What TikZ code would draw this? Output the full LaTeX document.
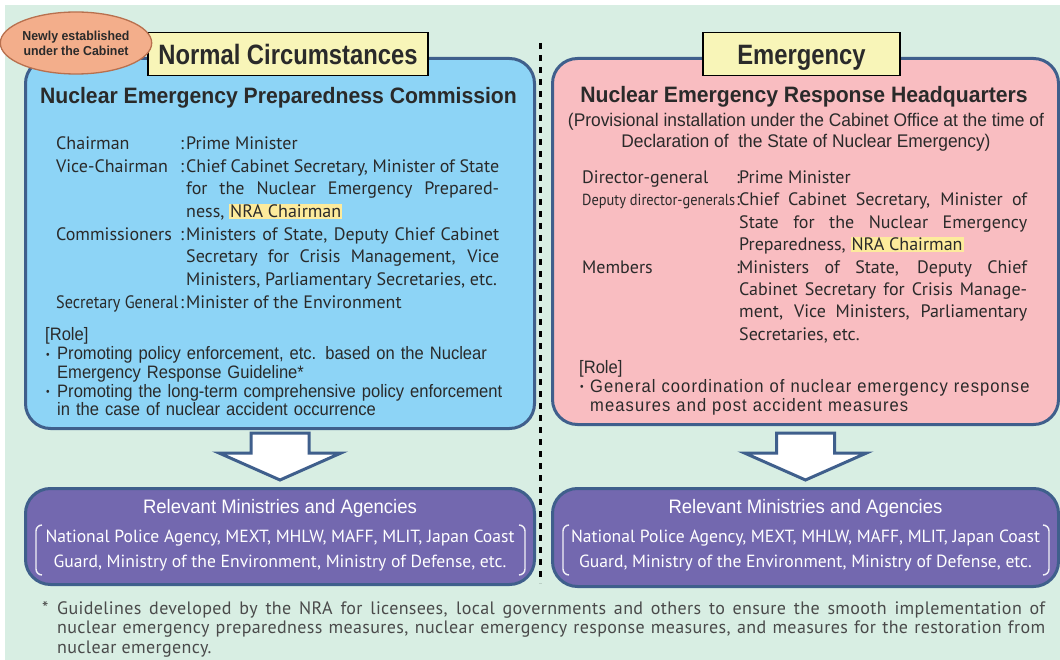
\documentclass[tikz,border=0pt]{standalone}
\usepackage{fontspec}
\usepackage{xcolor}
\usetikzlibrary{positioning,calc,shapes.geometric}
\setmainfont{PT Sans}
\newfontfamily\narrowfont[FakeStretch=0.9]{PT Sans}
\newfontfamily\titlefont[FakeStretch=0.85]{Liberation Sans}
\newfontfamily\headfont[FakeStretch=0.95]{Liberation Sans}
\newfontfamily\rolefont[FakeStretch=0.92]{Liberation Sans}
\newfontfamily\rolewidefont[FakeStretch=0.92,LetterSpace=6]{Liberation Sans}
\newfontfamily\notefont[LetterSpace=2]{PT Sans}
\definecolor{bgGreen}{HTML}{D8EEE3}
\definecolor{panelEdge}{HTML}{3F5F8C}
\definecolor{normalBlue}{HTML}{8DD4F6}
\definecolor{emergPink}{HTML}{F9BDC1}
\definecolor{agencyPurple}{HTML}{7368AF}
\definecolor{tagYellow}{HTML}{F8F5B8}
\definecolor{markYellow}{HTML}{FDEB9C}
\definecolor{cabinetOrange}{HTML}{F3AE8B}
\definecolor{cabinetEdge}{HTML}{B8704E}
\definecolor{textDark}{HTML}{2A2A2A}
\definecolor{noteGray}{HTML}{4A4A4A}
\newcommand{\nrachair}{{\setlength{\fboxsep}{1pt}\colorbox{markYellow}{NRA Chairman}}}
\newcommand{\roledot}[1]{\hangindent=#1\hangafter=1\makebox[#1][l]{\hspace{1pt}\raisebox{1.5pt}{\fontsize{11}{11}\selectfont\textbullet}}}
\tikzstyle{panel}=[draw=panelEdge, line width=3pt, rounded corners=25pt, anchor=north west, inner sep=0pt]
\tikzstyle{tag}=[draw=black, line width=1.3pt, fill=tagYellow, inner sep=0pt, minimum height=43pt,
        text height=24pt, text depth=2pt, text=textDark, font=\titlefont\bfseries\fontsize{28}{30}\selectfont]
\tikzstyle{heading}=[inner sep=0pt, text=textDark, font=\headfont\bfseries\fontsize{22.3}{26}\selectfont]
\tikzstyle{members}=[inner sep=0pt, anchor=base west, text=textDark, font=\fontsize{18}{22.7}\selectfont]
\tikzstyle{role}=[inner sep=0pt, anchor=base west, text=textDark]
\tikzstyle{agencytitle}=[inner sep=0pt, text=white, font=\headfont\fontsize{19.5}{22}\selectfont]
\tikzstyle{agencylist}=[inner sep=0pt, text=white, align=center, font=\fontsize{17.6}{24.5}\selectfont]
\tikzstyle{bracket}=[draw=white!90!agencyPurple, line width=1.4pt, rounded corners=6pt]
\tikzstyle{blockarrow}=[draw=panelEdge, line width=3pt, fill=white, line join=miter]
\tikzstyle{divider}=[line width=2.2pt, dash pattern=on 6pt off 6pt]

\begin{document}
\begin{tikzpicture}[x=1pt, y=-1pt]
        \fill[white] (0,0) rectangle (1060,660);
        \fill[bgGreen] (5,5) rectangle (1060,660);
        \useasboundingbox (0,0) rectangle (1060,660);
        \draw[divider] (540.5,43) -- (540.5,583);

        % the two panels
        \node (Normal) [panel, fill=normalBlue, minimum width=509pt, minimum height=370pt] at (24,57) {};
        \node (Emergency) [panel, fill=emergPink, minimum width=506pt, minimum height=366pt] at (551,57) {};
        \node (NormalTag) [tag, minimum width=280pt] at (288,54) {Normal Circumstances};
        \node (EmergencyTag) [tag, minimum width=197pt] at (801.5,54) {Emergency};
        \node (Cabinet) [ellipse, draw=cabinetEdge, line width=1.3pt, fill=cabinetOrange, minimum width=128pt,
          minimum height=62pt, inner sep=0pt, align=center, text=textDark,
          font=\headfont\bfseries\fontsize{13}{15}\selectfont] at (76,43) {Newly established\\under the Cabinet};

        \node (NormalHead) [heading] at (278.5,98) {Nuclear Emergency Preparedness Commission};
        \node (EmergencyHead) [heading] at (804,97) {Nuclear Emergency Response Headquarters};
        \node (EmergencyNote) [inner sep=0pt, align=center, text=textDark, font=\headfont\fontsize{18.3}{21}\selectfont]
          at (806,132.5) {(Provisional installation under the Cabinet Office at the time of\\Declaration of \ the State of Nuclear Emergency)};

        \node (NormalMembers) [members] at (56,149.5)
        {
          \begin{tabular}[t]{@{}p{124pt}@{}p{6pt}@{}p{313pt}@{}}
            Chairman & : & Prime Minister\\
            Vice-Chairman & : & Chief Cabinet Secretary, Minister of State\linebreak for the Nuclear Emergency Prepared-\linebreak ness, \nrachair\\
            Commissioners & : & Ministers of State, Deputy Chief Cabinet\linebreak Secretary for Crisis Management, Vice\linebreak Ministers, Parliamentary Secretaries, etc.\\
            \mbox{\narrowfont\fontsize{18}{22.7}\selectfont Secretary General} & : & Minister of the Environment
          \end{tabular}
        };
        \node (EmergencyMembers) [members, font=\fontsize{18}{22.4}\selectfont] at (582,183.5)
        {
          \begin{tabular}[t]{@{}p{154pt}@{}p{3pt}@{}p{288pt}@{}}
            Director-general & : & Prime Minister\\
            \mbox{\narrowfont\fontsize{16}{22.4}\selectfont Deputy director-generals} & : & Chief Cabinet Secretary, Minister of\linebreak State for the Nuclear Emergency\linebreak Preparedness, \nrachair\\
            Members & : & Ministers of State, Deputy Chief\linebreak Cabinet Secretary for Crisis Manage-\linebreak ment, Vice Ministers, Parliamentary\linebreak Secretaries, etc.
          \end{tabular}
        };

        \node (NormalRole) [role, text width=480pt, font=\rolefont\fontsize{18}{18.7}\selectfont] at (45,341)
        {
          \raggedright [Role]\par
          \roledot{12pt}Promoting policy enforcement, etc. based on the Nuclear\newline Emergency Response Guideline*\par
          \roledot{12pt}Promoting the long-term comprehensive policy enforcement\newline in the case of nuclear accident occurrence\par
        };
        \node (EmergencyRole) [role, text width=470pt, font=\rolefont\fontsize{18}{19}\selectfont] at (579,373)
        {
          \raggedright [Role]\par
          \roledot{11pt}{\rolewidefont General coordination of nuclear emergency response\newline measures and post accident measures\par}
        };

        % ministries and agencies
        \node (NormalAgencies) [panel, fill=agencyPurple, minimum width=509pt, minimum height=96pt] at (24,487) {};
        \node (EmergencyAgencies) [panel, fill=agencyPurple, minimum width=506pt, minimum height=98pt] at (551,487) {};
        \foreach \agency in {NormalAgencies, EmergencyAgencies}
        {
          \node (\agency-title) [agencytitle] at ($(\agency.north)+(0,21)$) {Relevant Ministries and Agencies};
          \node (\agency-list) [agencylist] at ($(\agency.north)+(0,63.5)$)
            {National Police Agency, MEXT, MHLW, MAFF, MLIT, Japan Coast\\Guard, Ministry of the Environment, Ministry of Defense, etc.};
          \draw[bracket] ($(\agency.north west)+(18,38)$) -- ++(-6,0) -- ++(0,50) -- ++(6,0);
          \draw[bracket] ($(\agency.north east)+(-17,38)$) -- ++(6,0) -- ++(0,50) -- ++(-6,0);
          \draw[blockarrow] ($(\agency.north)+(-29,-54)$) -- ++(0,20) -- ++(-32,0) -- ($(\agency.north)+(0,-7)$)
            -- ($(\agency.north)+(61,-34)$) -- ++(-32,0) -- ++(0,-20) -- cycle;
        }

        \node (Footnote) [inner sep=0pt, anchor=base west, text width=1003pt, align=justify, text=noteGray,
          font=\notefont\fontsize{18}{19.5}\selectfont] at (42,614)
        {
          \hangindent=15pt\hangafter=1\makebox[15pt][l]{*}Guidelines developed by the NRA for licensees, local governments and others to ensure the smooth implementation of\linebreak nuclear emergency preparedness measures, nuclear emergency response measures, and measures for the restoration from\linebreak nuclear emergency.\par
        };
      \end{tikzpicture}
\end{document}
